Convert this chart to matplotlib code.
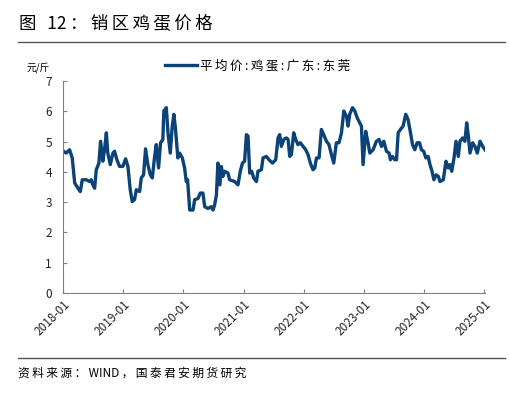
import matplotlib.pyplot as plt
import matplotlib.dates as mdates
import pandas as pd

plt.rcParams['font.family'] = ['Noto Sans CJK SC', 'DejaVu Sans']

# 平均价:鸡蛋:广东:东莞 (元/斤)
dates = [
    "2018-01-05", "2018-01-20", "2018-02-10", "2018-02-26", "2018-03-13", "2018-04-02",
    "2018-04-16", "2018-04-28", "2018-05-22", "2018-06-11", "2018-06-21", "2018-07-01",
    "2018-07-12", "2018-07-22", "2018-08-07", "2018-08-17", "2018-08-31", "2018-09-10",
    "2018-09-21", "2018-09-30", "2018-10-15", "2018-10-31", "2018-11-10", "2018-11-24",
    "2018-12-10", "2018-12-30", "2019-01-16", "2019-01-30", "2019-02-13", "2019-02-25",
    "2019-03-11", "2019-03-22", "2019-04-11", "2019-04-21", "2019-05-05", "2019-05-17",
    "2019-05-31", "2019-06-15", "2019-06-27", "2019-07-11", "2019-07-21", "2019-08-04",
    "2019-08-16", "2019-08-30", "2019-09-05", "2019-09-20", "2019-09-30", "2019-10-14",
    "2019-10-26", "2019-11-05", "2019-11-15", "2019-11-29", "2019-12-10", "2019-12-26",
    "2020-01-09", "2020-01-19", "2020-01-27", "2020-02-09", "2020-02-29", "2020-03-10",
    "2020-03-30", "2020-04-13", "2020-04-29", "2020-05-10", "2020-05-30", "2020-06-19",
    "2020-06-29", "2020-07-09", "2020-07-20", "2020-07-29", "2020-08-09", "2020-08-19",
    "2020-08-29", "2020-09-08", "2020-09-28", "2020-10-08", "2020-11-08", "2020-11-28",
    "2020-12-12", "2020-12-25", "2021-01-07", "2021-01-18", "2021-01-28", "2021-02-07",
    "2021-02-19", "2021-03-03", "2021-03-20", "2021-03-29", "2021-04-19", "2021-04-29",
    "2021-05-19", "2021-06-04", "2021-06-25", "2021-07-15", "2021-07-29", "2021-08-08",
    "2021-08-18", "2021-09-02", "2021-09-18", "2021-09-28", "2021-10-08", "2021-10-18",
    "2021-11-01", "2021-11-13", "2021-11-27", "2021-12-11", "2021-12-28", "2022-01-13",
    "2022-01-27", "2022-02-10", "2022-02-26", "2022-03-09", "2022-03-19", "2022-04-04",
    "2022-04-18", "2022-05-02", "2022-05-19", "2022-06-03", "2022-06-18", "2022-07-02",
    "2022-07-18", "2022-08-03", "2022-08-18", "2022-09-01", "2022-09-17", "2022-09-27",
    "2022-10-07", "2022-10-24", "2022-11-07", "2022-11-21", "2022-12-07", "2022-12-17",
    "2022-12-27", "2023-01-12", "2023-01-26", "2023-02-06", "2023-02-26", "2023-03-18",
    "2023-04-03", "2023-04-18", "2023-05-02", "2023-05-18", "2023-06-03", "2023-06-11",
    "2023-06-23", "2023-07-08", "2023-07-18", "2023-07-28", "2023-08-11", "2023-08-27",
    "2023-09-12", "2023-09-26", "2023-10-11", "2023-10-23", "2023-11-06", "2023-11-20",
    "2023-12-05", "2023-12-16", "2023-12-30", "2024-01-12", "2024-01-26", "2024-02-06",
    "2024-02-16", "2024-03-01", "2024-03-14", "2024-03-28", "2024-04-07", "2024-04-27",
    "2024-05-13", "2024-05-27", "2024-06-06", "2024-06-17", "2024-07-01", "2024-07-13",
    "2024-07-27", "2024-08-06", "2024-08-22", "2024-09-05", "2024-09-16", "2024-09-26",
    "2024-10-06", "2024-10-22", "2024-11-05", "2024-11-19", "2024-12-06", "2024-12-22",
    "2025-01-05",
]
price = [
    4.68, 4.62, 4.73, 4.46, 3.63, 3.46,
    3.35, 3.74, 3.74, 3.68, 3.74, 3.57,
    3.46, 4.07, 4.29, 5.01, 4.35, 4.73,
    5.29, 4.62, 4.24, 4.62, 4.68, 4.40,
    4.18, 4.18, 4.43, 4.18, 3.41, 3.02,
    3.08, 3.41, 3.35, 3.80, 3.90, 4.76,
    4.24, 3.90, 3.80, 4.51, 4.90, 4.13,
    4.96, 5.07, 6.01, 6.12, 5.29, 4.62,
    5.51, 5.90, 5.40, 4.46, 4.62, 4.46,
    4.13, 3.68, 3.74, 2.74, 2.74, 3.08,
    3.12, 3.30, 3.30, 2.85, 2.79, 2.85,
    2.74, 2.90, 3.24, 4.29, 3.57, 4.18,
    3.85, 4.02, 3.96, 3.74, 3.68, 3.57,
    4.02, 4.29, 4.35, 5.23, 5.18, 3.96,
    4.02, 3.80, 3.68, 4.02, 4.07, 4.46,
    4.51, 4.40, 4.29, 4.40, 5.12, 5.23,
    4.84, 5.07, 5.12, 5.07, 4.51, 4.57,
    5.29, 5.07, 4.90, 4.96, 4.84, 4.73,
    4.57, 4.29, 4.07, 4.13, 4.46, 4.46,
    5.40, 5.23, 5.01, 4.90, 4.57, 4.29,
    4.96, 4.96, 5.29, 6.01, 5.84, 5.51,
    5.90, 6.12, 6.01, 5.79, 5.62, 5.51,
    4.24, 5.34, 4.96, 4.62, 4.73, 5.01,
    5.07, 4.84, 5.01, 4.68, 4.62, 4.40,
    4.51, 4.40, 4.40, 5.29, 5.40, 5.51,
    5.90, 5.73, 5.29, 4.90, 4.73, 4.96,
    4.96, 4.73, 4.68, 4.46, 4.51, 4.24,
    4.07, 3.74, 3.90, 3.85, 3.68, 3.74,
    4.35, 4.13, 4.24, 4.02, 4.46, 5.01,
    4.51, 5.01, 5.12, 5.01, 5.62, 5.18,
    4.62, 4.96, 4.84, 4.62, 5.01, 4.84,
    4.73,
]
tick_labels = ["2018-01", "2019-01", "2020-01", "2021-01",
               "2022-01", "2023-01", "2024-01", "2025-01"]


def spaced(s):
    # the original has loose letter spacing, thin space comes from DejaVu;
    # runs of latin letters / digits stay together
    out = s[0]
    for a, b in zip(s, s[1:]):
        if not (a.isascii() and a.isalnum() and b.isascii() and b.isalnum()):
            out += "\u2009"
        out += b
    return out


x = pd.to_datetime(dates)
ticks = pd.to_datetime(tick_labels)

fig = plt.figure(figsize=(5.1, 3.95), dpi=100)
ax = fig.add_axes([63/510, 1-293/395, (485-63)/510, (293-81)/395])

ax.plot(x, price, color="#0b4278", lw=2.4, label=spaced("平均价:鸡蛋:广东:东莞"))

ax.set_ylim(0, 7)
ax.set_xlim(ticks[0], x[-1])
ax.set_yticks(range(0, 8))
ax.set_xticks(ticks)
ax.set_xticklabels(tick_labels, rotation=45, ha="right", rotation_mode="anchor")
ax.tick_params(direction="in", length=3, color="#808080", labelsize=8.5,
               labelcolor="#222222")
ax.tick_params(axis="y", pad=8)
for s in ["top", "right"]:
    ax.spines[s].set_visible(False)
for s in ["left", "bottom"]:
    ax.spines[s].set_color("#808080")

ax.legend(loc="lower center", bbox_to_anchor=(0.46, 1.0), frameon=False,
          fontsize=9, handlelength=2.6, handletextpad=0.2, borderaxespad=0.3)

fig.text(19/510, 1-24/395, spaced("图 12：销区鸡蛋价格"), fontsize=12.5, va="center")
fig.add_artist(plt.Line2D([18/510, 505/510], [1-42/395, 1-42/395],
                          color="#555555", lw=1))
fig.text(27/510, 1-68/395, "元/斤", fontsize=7, va="center")
fig.add_artist(plt.Line2D([18/510, 505/510], [1-358/395, 1-358/395],
                          color="#555555", lw=1))
fig.text(18/510, 1-373/395, spaced("资料来源：WIND，国泰君安期货研究"), fontsize=8.5,
         va="center")

fig.savefig("out.png")
